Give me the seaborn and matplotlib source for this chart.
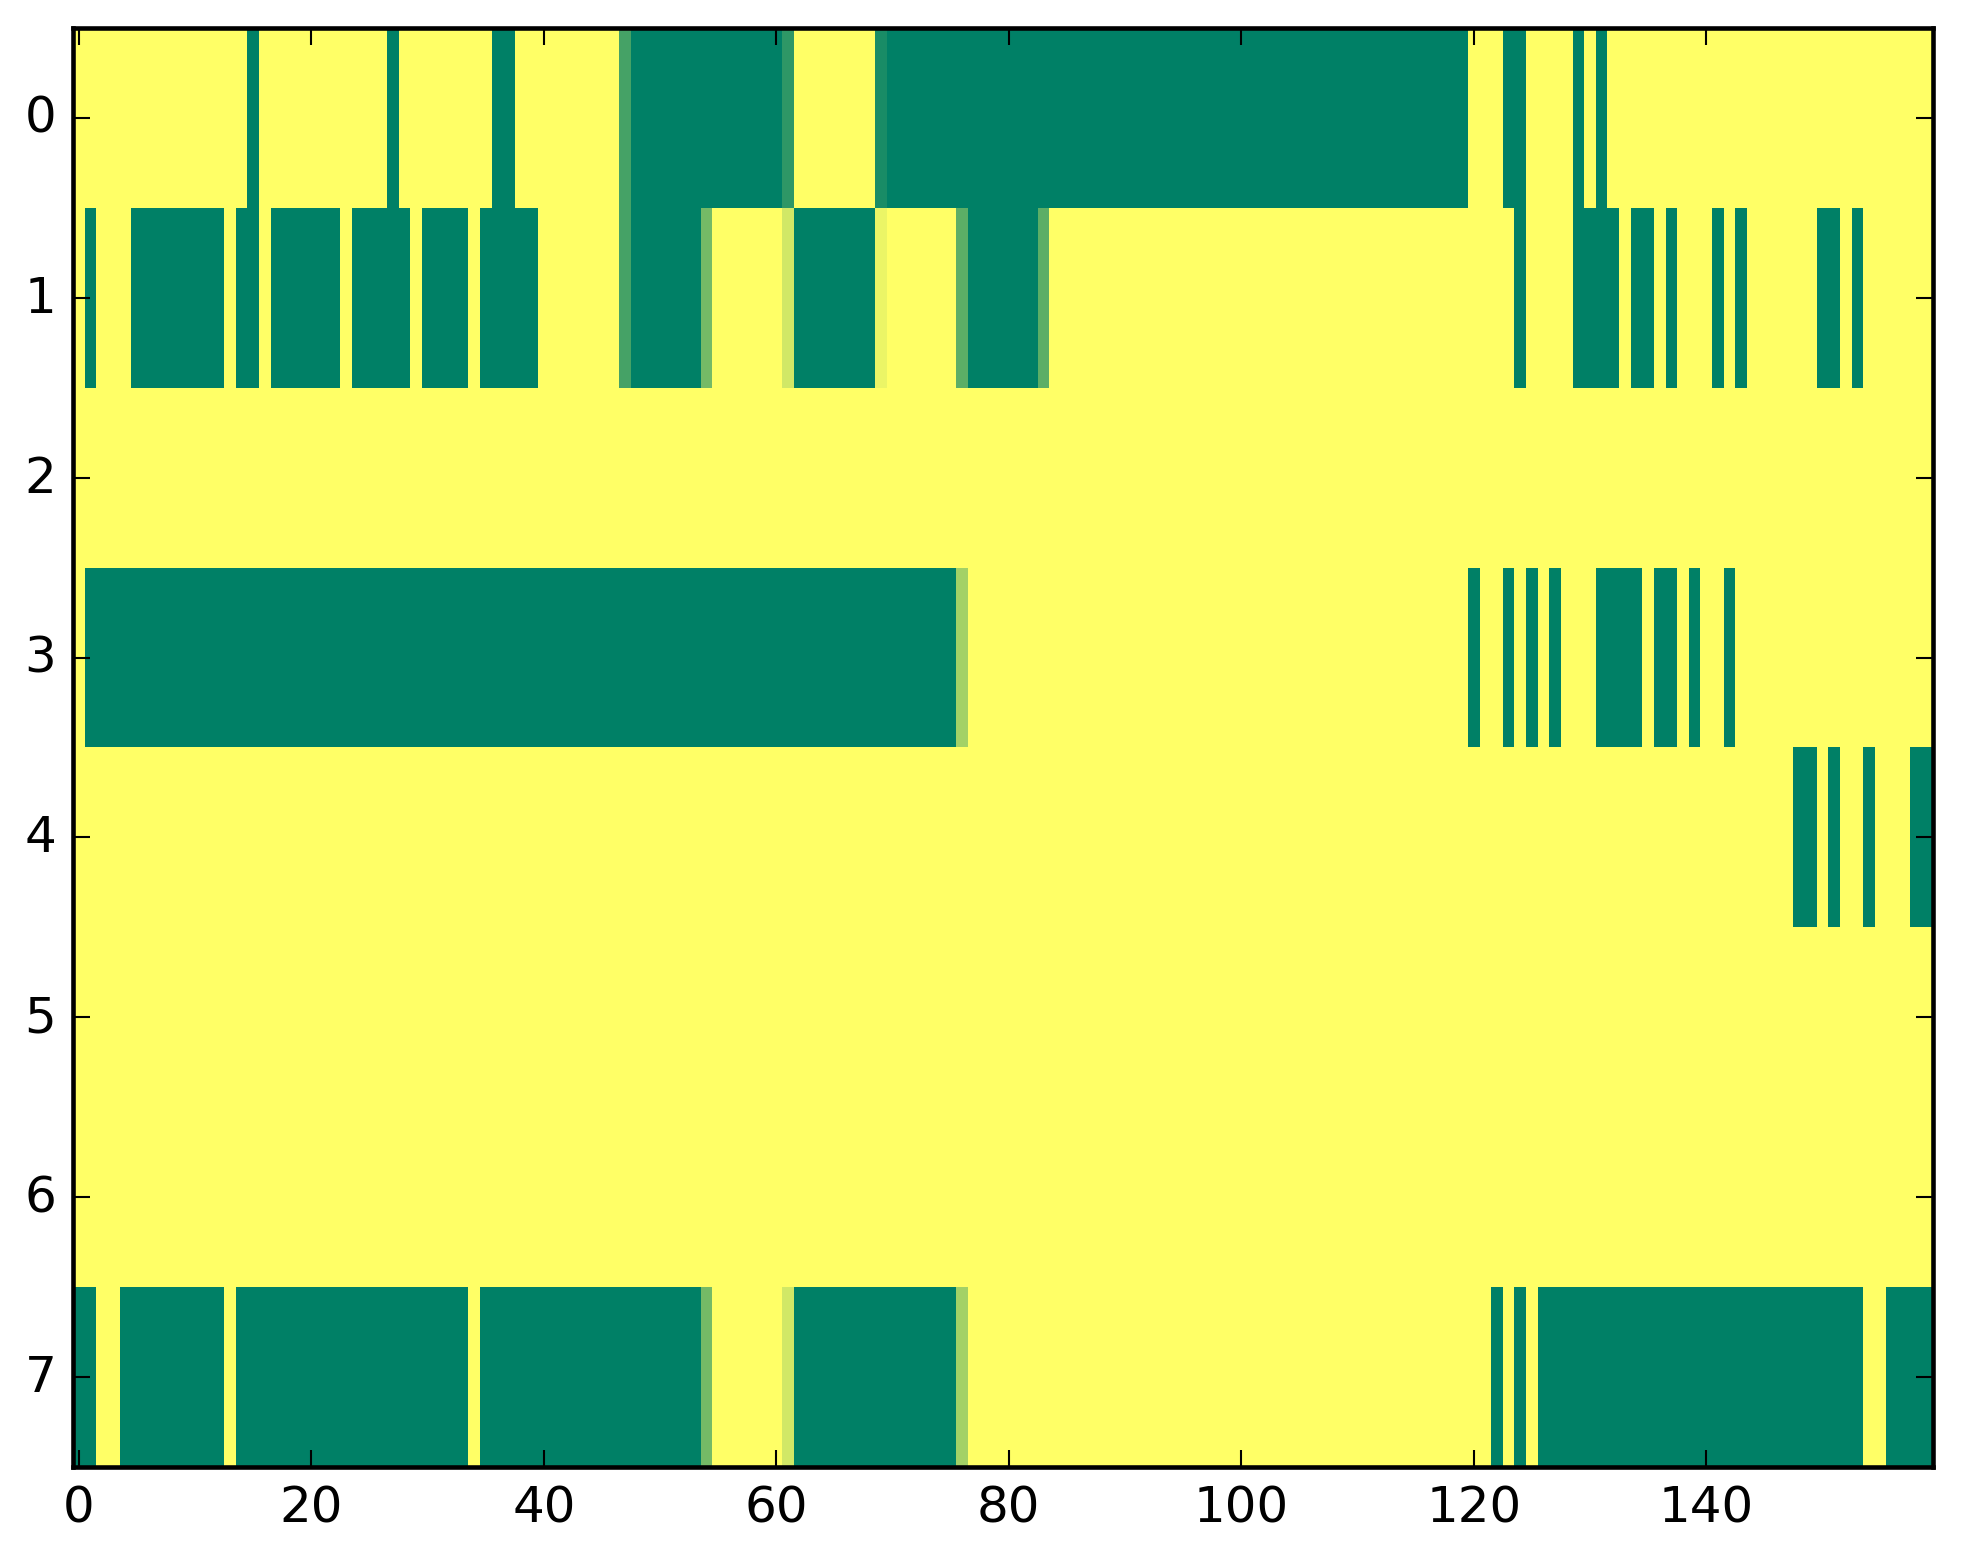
import numpy as np
import matplotlib
matplotlib.use("Agg")
import matplotlib.pyplot as plt
import seaborn as sns

n_rows = 8
n_cols = 160

# low-value (green) runs per row, inclusive column ranges; the rest is 1 (yellow)
row0_runs = [(15, 15), (27, 27), (36, 37), (48, 60), (70, 119), (123, 124), (129, 129), (131, 131)]
row1_runs = [(1, 1), (5, 12), (14, 15), (17, 22), (24, 28), (30, 33), (35, 39), (48, 53),
             (62, 68), (77, 82), (124, 124), (129, 132), (134, 135), (137, 137), (141, 141),
             (143, 143), (150, 151), (153, 153)]
row2_runs = []
row3_runs = [(1, 75), (120, 120), (123, 123), (125, 125), (127, 127), (131, 134), (136, 137),
             (139, 139), (142, 142)]
row4_runs = [(148, 149), (151, 151), (154, 154), (158, 159)]
row5_runs = []
row6_runs = []
row7_runs = [(0, 1), (4, 12), (14, 33), (35, 53), (62, 75), (122, 122), (124, 124),
             (126, 153), (156, 159)]

# cells with in-between values (row, column, value)
partial_cells = [(0, 47, 0.27), (0, 61, 0.18), (0, 69, 0.10),
                 (1, 47, 0.27), (1, 54, 0.46), (1, 61, 0.82), (1, 69, 0.92),
                 (1, 76, 0.36), (1, 83, 0.36),
                 (3, 76, 0.64),
                 (7, 54, 0.46), (7, 61, 0.82), (7, 76, 0.64)]

xtick_values = [0, 20, 40, 60, 80, 100, 120, 140]
ytick_values = [0, 1, 2, 3, 4, 5, 6, 7]

all_runs = [row0_runs, row1_runs, row2_runs, row3_runs, row4_runs, row5_runs, row6_runs, row7_runs]
grid = np.ones((n_rows, n_cols))
for r, runs in enumerate(all_runs):
    for a, b in runs:
        grid[r, a:b + 1] = 0.0
for r, c, v in partial_cells:
    grid[r, c] = v

sns.set_style("white")
plt.rcParams["font.family"] = ["DejaVu Sans"]

fig = plt.figure(figsize=(1963 / 300, 1564 / 300), dpi=300)
ax = fig.add_axes([0.0372, 0.0614, 0.9475, 0.9201])

sns.heatmap(grid, cmap="summer", vmin=0, vmax=1, cbar=False, ax=ax)
ax.set_axisbelow(False)

ax.set_xticks([x + 0.5 for x in xtick_values])
ax.set_xticklabels([str(x) for x in xtick_values], rotation=0)
ax.set_yticks([y + 0.5 for y in ytick_values])
ax.set_yticklabels([str(y) for y in ytick_values], rotation=0)

for sp in ax.spines.values():
    sp.set_visible(True)
    sp.set_color("black")
    sp.set_linewidth(1.1)
    sp.set_zorder(3)

ax.tick_params(direction="in", top=True, right=True, bottom=True, left=True,
               length=4, width=0.5, color="black", labelsize=12, pad=4,
               labelcolor="black")

fig.savefig("out.png", dpi=300)
